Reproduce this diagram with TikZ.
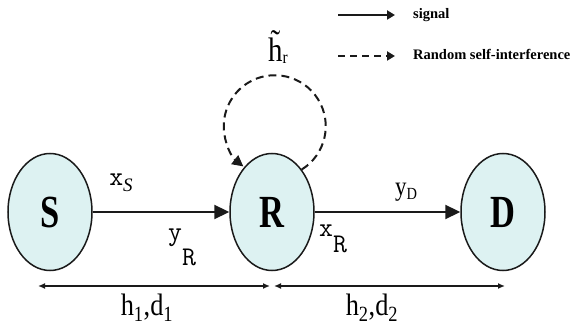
\documentclass[tikz,border=0pt]{standalone}
\usepackage{fontspec}
\setmainfont{Liberation Serif}
\newfontfamily\narrowserif[FakeStretch=0.75]{Liberation Serif}
\newfontfamily\labelserif[FakeStretch=0.85]{Liberation Serif}
\usepackage{tikz}
\usetikzlibrary{arrows.meta,shapes.geometric}
\definecolor{nodecyan}{HTML}{DDF2F2}
\definecolor{edgeblack}{HTML}{1A1A1A}

\begin{document}
\begin{tikzpicture}[x=1pt,y=1pt]
    \tikzstyle{terminal}=[ellipse,draw=edgeblack,line width=1.5pt,fill=nodecyan,minimum width=84pt,minimum height=117pt,inner sep=0pt,font=\narrowserif\bfseries\fontsize{46}{46}\selectfont]
    \tikzstyle{tag}=[inner sep=0pt,font=\fontsize{27}{27}\selectfont]
    \tikzstyle{link}=[-{Triangle[length=15pt,width=14pt]},line width=2.3pt,edgeblack]
    \tikzstyle{span}=[{Latex[length=7pt,width=6pt]}-{Latex[length=7pt,width=6pt]},line width=1.4pt,edgeblack]
    \tikzstyle{loopback}=[-{Triangle[length=11pt,width=11pt]},line width=2pt,dash pattern=on 8pt off 5pt,edgeblack]
    \tikzstyle{legendline}=[-{Triangle[length=8pt,width=9pt]},line width=2.2pt,edgeblack]
    \tikzstyle{legendtext}=[inner sep=0pt,anchor=west,font=\bfseries\fontsize{14.5}{14.5}\selectfont]
    \useasboundingbox (0,0) rectangle (579,327);
    % the three terminals
    \node[terminal] (s) at (50,115) {S};
    \node[terminal] (r) at (272,115) {R};
    \node[terminal] (d) at (503,115) {D};
    \draw[link] (s) -- (r);
    \draw[link] (r) -- (d);
    % self-interference at the relay
    \draw[loopback] (r.55) arc[start angle=-58,end angle=232,radius=51pt];
    \node[tag] (hr) at (278,280) {\labelserif\fontsize{34}{34}\selectfont\~{h}\raisebox{-2pt}{\fontsize{18}{18}\selectfont r}};
    % signal labels
    \node[tag] (xs) at (121,144) {\ttfamily x\raisebox{-6pt}{\rmfamily\itshape\fontsize{19}{19}\selectfont S}};
    \node[tag] (yr) at (182,80) {\ttfamily y\raisebox{-25pt}{R}};
    \node[tag] (xr) at (333,88) {\ttfamily x\raisebox{-16pt}{R}};
    \node[tag] (yd) at (406,135) {\labelserif y\raisebox{-4pt}{\fontsize{17}{17}\selectfont D}};
    % distances
    \coordinate (spanL) at (38,41);
    \coordinate (spanM1) at (270,41);
    \coordinate (spanM2) at (274,41);
    \coordinate (spanR) at (505,41);
    \draw[span] (spanL) -- (spanM1);
    \draw[span] (spanM2) -- (spanR);
    \node[tag] (sr) at (147,19) {\labelserif\fontsize{31}{31}\selectfont h\textsubscript{1},d\textsubscript{1}};
    \node[tag] (rd) at (372,19) {\labelserif\fontsize{31}{31}\selectfont h\textsubscript{2},d\textsubscript{2}};
    % legend
    \coordinate (sigA) at (338,312);
    \coordinate (sigB) at (395,312);
    \coordinate (rsiA) at (338,271);
    \coordinate (rsiB) at (395,271);
    \draw[legendline] (sigA) -- (sigB);
    \draw[legendline,dash pattern=on 7pt off 5pt] (rsiA) -- (rsiB);
    \node[legendtext] (sigtxt) at (413,312) {signal};
    \node[legendtext] (rsitxt) at (413,273) {Random self-interference};
\end{tikzpicture}
\end{document}
